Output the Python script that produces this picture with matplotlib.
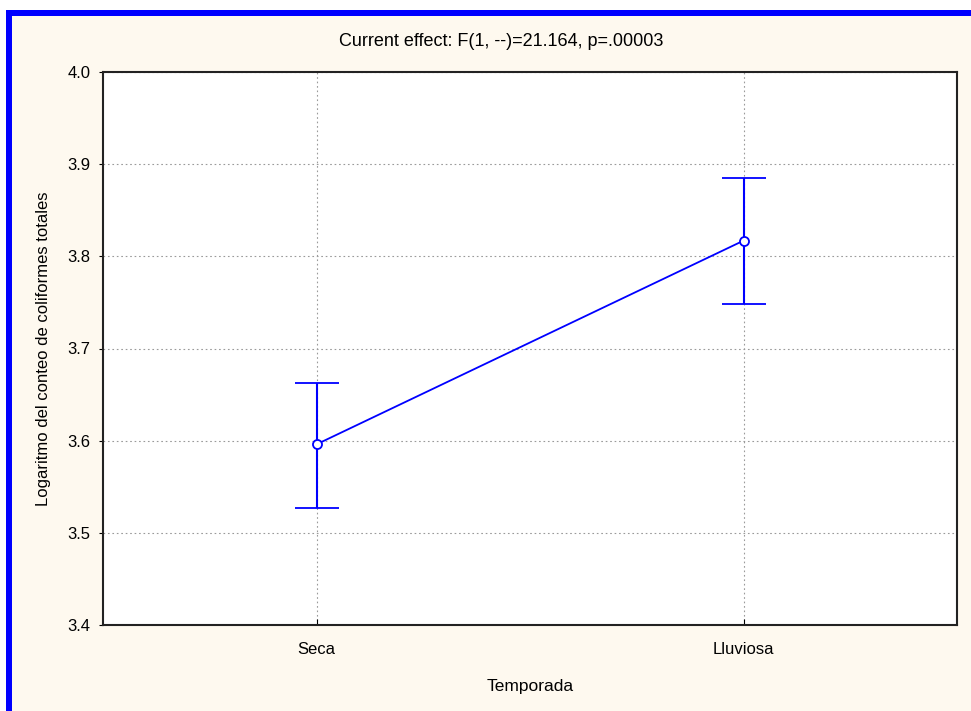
import numpy as np
import matplotlib
matplotlib.use('agg')
import matplotlib.pyplot as plt
from matplotlib.patches import Rectangle

# Season means with confidence limits (log total coliform count)
seasons = ["Seca", "Lluviosa"]
means = [3.596, 3.817]
upper = [3.663, 3.885]
lower = [3.527, 3.748]
yticks = [3.4, 3.5, 3.6, 3.7, 3.8, 3.9, 4.0]

plt.rcParams['font.family'] = ['Liberation Sans', 'DejaVu Sans']

W, H = 971, 711
fig = plt.figure(figsize=(W/100, H/100), dpi=100)
fig.patch.set_facecolor('white')

# cream window background and blue frame (top + left)
fig.patches.append(Rectangle((6/W, 0), 1, 1 - 10/H, transform=fig.transFigure,
                             facecolor='#fef9ef', edgecolor='none', zorder=0))
fig.patches.append(Rectangle((6/W, 1 - 16/H), 1, 6/H, transform=fig.transFigure,
                             facecolor='#0000ff', edgecolor='none', zorder=1))
fig.patches.append(Rectangle((6/W, 0), 6/W, 1 - 10/H, transform=fig.transFigure,
                             facecolor='#0000ff', edgecolor='none', zorder=1))

ax = fig.add_axes([103/W, 1 - 625/H, (957-103)/W, (625-72)/H])
ax.set_zorder(5)
ax.set_facecolor('white')

x = np.arange(len(seasons))
m = np.array(means)
yerr = [m - np.array(lower), np.array(upper) - m]
ax.errorbar(x, m, yerr=yerr, color='#0000ff', lw=1.3, elinewidth=1.5,
            capsize=16, capthick=1.5, marker='o', markersize=6.5,
            markerfacecolor='white', markeredgecolor='#0000ff', markeredgewidth=1.3,
            zorder=3)

ax.set_xlim(-0.5, 1.5)
ax.set_ylim(3.4, 4.0)
ax.set_xticks(x)
ax.set_xticklabels(seasons)
ax.set_yticks(yticks)
ax.set_yticklabels(["%.1f" % v for v in yticks])
ax.grid(True, linestyle=(0, (1.5, 2.5)), color='#9a9a9a', lw=0.8)
ax.tick_params(axis='y', direction='out', length=3, labelsize=12, pad=6)
ax.tick_params(axis='x', direction='in', length=4, labelsize=12, pad=12)
for s in ax.spines.values():
    s.set_color('#222222')
    s.set_linewidth(1.5)

ax.set_xlabel("Temporada", fontsize=12.5, labelpad=16)
ax.set_ylabel("Logaritmo del conteo de coliformes totales", fontsize=12, labelpad=12)
fig.text(501/W, 1 - 42/H, "Current effect: F(1, --)=21.164, p=.00003",
         ha='center', va='center', fontsize=13)

fig.savefig("out.png", dpi=100, facecolor=fig.get_facecolor())
